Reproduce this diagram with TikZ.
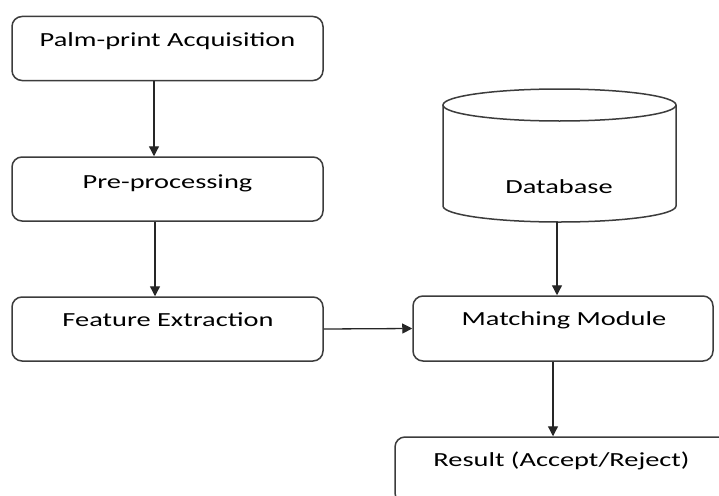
\documentclass[tikz,border=0pt]{standalone}
\usepackage{fontspec}
\setmainfont[FakeStretch=1.42]{Carlito}
\usetikzlibrary{arrows.meta}
\definecolor{linegray}{HTML}{3C3C3C}
\begin{document}
\begin{tikzpicture}[x=1pt,y=-1pt,
  box/.style={draw=linegray, line width=1.5pt, rounded corners=10pt, inner sep=0pt, minimum width=311pt, minimum height=64pt},
  lbl/.style={anchor=base, inner sep=0pt, font=\fontsize{20}{24}\selectfont},
  arr/.style={draw=black!85, line width=1.3pt, -{Triangle[length=10pt,width=10pt]}}]
\useasboundingbox (0,0) rectangle (719,495);
\fill[white] (0,0) rectangle (719,495);
% boxes
\node[box] (b1) at (167.5,48.5) {};
\node[box] (b2) at (167.5,189) {};
\node[box] (b3) at (167.5,329) {};
\node[box, minimum width=300pt, minimum height=65pt] (mm) at (563,328.5) {};
\begin{scope}
\clip (0,0) rectangle (719,495);
\node[box, minimum width=333pt, minimum height=66pt] (res) at (561.5,470) {};
\end{scope}
% database cylinder
\draw[linegray, line width=1.5pt] (443,105) -- (443,206)
  arc[start angle=180, end angle=0, x radius=116.5, y radius=16] -- (676,105);
\draw[linegray, line width=1.5pt] (559.5,105) ellipse [x radius=116.5, y radius=16];
\coordinate (dbbot) at (557,222);
% labels
\node[lbl] (t1) at (167.5,47) {Palm-print Acquisition};
\node[lbl] (t2) at (167.5,188) {Pre-processing};
\node[lbl] (t3) at (168,326) {Feature Extraction};
\node[lbl] (t4) at (564,325) {Matching Module};
\node[lbl] (t5) at (559,193) {Database};
\node[lbl] (t6) at (561.5,466) {Result (Accept/Reject)};
% arrows
\draw[arr] ([xshift=-13.5pt]b1.south) -- ([xshift=-13.5pt]b2.north);
\draw[arr] ([xshift=-12.5pt]b2.south) -- ([xshift=-12.5pt]b3.north);
\draw[arr] (b3.east) -- (mm.west);
\draw[arr] (dbbot) -- (dbbot |- mm.north);
\draw[arr] ([xshift=-10pt]mm.south) -- ([xshift=-10pt]mm.south |- res.north);
\end{tikzpicture}
\end{document}
